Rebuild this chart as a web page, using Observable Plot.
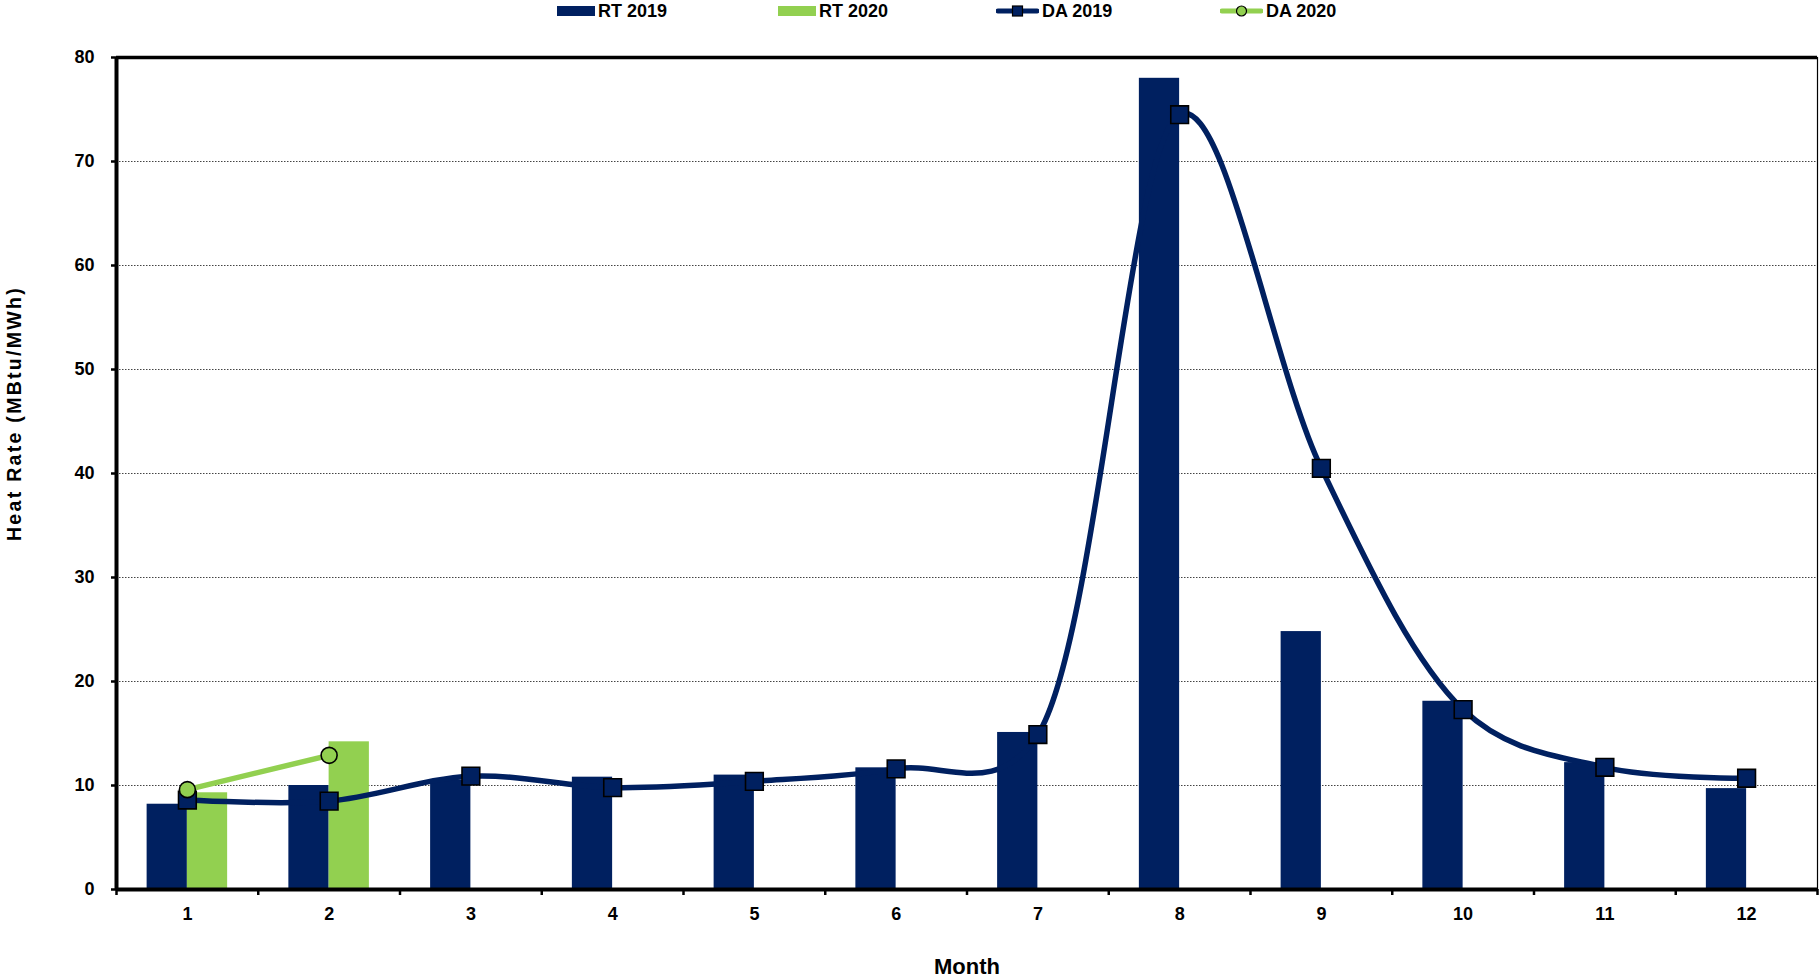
<!DOCTYPE html>
<html><head><meta charset="utf-8">
<script src="https://cdn.jsdelivr.net/npm/d3@7"></script>
<script src="https://cdn.jsdelivr.net/npm/@observablehq/plot@0.6"></script>
<style>
body{margin:0;background:#fff;font-family:"Liberation Sans",Arial,sans-serif;}
#legend{position:relative;width:1819px;height:22px;font-weight:bold;font-size:18px;color:#000;}
.item{position:absolute;top:0;height:22px;display:flex;align-items:center;white-space:nowrap;}
.item svg{display:block;margin-right:3px;}
#chart svg{display:block;}
</style></head><body>
<div id="legend"></div>
<div id="chart"></div>
<script>
// ---- data ----
const months = [1, 2, 3, 4, 5, 6, 7, 8, 9, 10, 11, 12];
const rt2019 = [8.2, 10.0, 10.5, 10.8, 11.0, 11.7, 15.1, 78.0, 24.8, 18.1, 12.2, 9.7];
const rt2020 = [9.3, 14.2];
const da2019 = [8.6, 8.5, 10.9, 9.8, 10.4, 11.6, 14.9, 74.5, 40.5, 17.3, 11.75, 10.7];
const da2020 = [9.6, 12.9];
const yTicks = [0, 10, 20, 30, 40, 50, 60, 70, 80];
const seriesNames = ["RT 2019", "RT 2020", "DA 2019", "DA 2020"];

const navy = "#002060", green = "#92D050";

// ---- legend ----
const legend = document.getElementById("legend");
const legendItems = [
  {name: seriesNames[0], left: 557, svg: `<svg width="38" height="22"><rect x="0" y="6" width="38" height="10" fill="${navy}"/></svg>`},
  {name: seriesNames[1], left: 778, svg: `<svg width="38" height="22"><rect x="0" y="6" width="38" height="10" fill="${green}"/></svg>`},
  {name: seriesNames[2], left: 996, svg: `<svg width="43" height="22"><line x1="2" x2="41" y1="11" y2="11" stroke="${navy}" stroke-width="5" stroke-linecap="round"/><rect x="16.5" y="6" width="10" height="10" fill="${navy}" stroke="#000" stroke-width="1.2"/></svg>`},
  {name: seriesNames[3], left: 1220, svg: `<svg width="43" height="22"><line x1="2" x2="41" y1="11" y2="11" stroke="${green}" stroke-width="5" stroke-linecap="round"/><circle cx="21.5" cy="11" r="5" fill="${green}" stroke="#000" stroke-width="1.2"/></svg>`}
];
for (const it of legendItems) {
  const d = document.createElement("div");
  d.className = "item";
  d.style.left = it.left + "px";
  d.innerHTML = it.svg + `<span>${it.name}</span>`;
  legend.appendChild(d);
}

// ---- chart ----
const W = 1819, H = 957, mL = 116, mR = 2, mT = 35, mB = 90;
const bw = (W - mL - mR) / months.length;
const barW = bw * 0.284;

const rows19 = months.map((m, i) => ({month: m, value: rt2019[i]}));
const rows20 = rt2020.map((v, i) => ({month: months[i], value: v}));
const da19 = months.map((m, i) => ({month: m, value: da2019[i]}));
const da20 = da2020.map((v, i) => ({month: months[i], value: v}));

const plot = Plot.plot({
  width: W, height: H,
  marginLeft: mL, marginRight: mR, marginTop: mT, marginBottom: mB,
  style: {fontFamily: "Liberation Sans, Arial, sans-serif", fontWeight: "bold", fontSize: "18px", color: "#000", background: "#fff"},
  x: {type: "band", domain: months, padding: 0, round: false, axis: null, label: null},
  y: {domain: [0, 80], axis: null, label: null},
  marks: [
    Plot.gridY(yTicks.slice(1, -1), {stroke: "#444", strokeOpacity: 1, strokeWidth: 1, strokeDasharray: "1.5,1.5"}),
    Plot.barY(rows19, {x: "month", y: "value", fill: navy, insetLeft: bw / 2 - barW, insetRight: bw / 2}),
    Plot.barY(rows20, {x: "month", y: "value", fill: green, insetLeft: bw / 2, insetRight: bw / 2 - barW}),
    Plot.line(da19, {x: "month", y: "value", stroke: navy, strokeWidth: 5.5, curve: d3.curveCatmullRom.alpha(0.25)}),
    Plot.line(da20, {x: "month", y: "value", stroke: green, strokeWidth: 5.5}),
    Plot.dot(da19, {x: "month", y: "value", symbol: "square", r: 10, fill: navy, stroke: "#000", strokeWidth: 1.6}),
    Plot.dot(da20, {x: "month", y: "value", symbol: "circle", r: 8, fill: green, stroke: "#000", strokeWidth: 1.6}),
    Plot.frame({stroke: "#000", strokeWidth: 1.2}),
    Plot.ruleY([80], {stroke: "#000", strokeWidth: 3.5}),
    Plot.ruleY([0], {stroke: "#000", strokeWidth: 4}),
    Plot.ruleX([months[0]], {dx: -bw / 2, stroke: "#000", strokeWidth: 4}),
    Plot.axisY({ticks: yTicks, label: null, tickSize: 5, tickPadding: 17, strokeWidth: 2.5, fontSize: 18, fontWeight: "bold"}),
    Plot.axisX({ticks: months, label: null, tickSize: 0, tickPadding: 18, fontSize: 18, fontWeight: "bold"}),
    Plot.axisX({ticks: months, label: null, tickSize: 6, strokeWidth: 2.5, dx: -bw / 2, tickFormat: () => ""}),
    Plot.axisX({ticks: [months[months.length - 1]], label: null, tickSize: 6, strokeWidth: 2.5, dx: bw / 2, tickFormat: () => ""}),
    Plot.text(["Heat Rate (MBtu/MWh)"], {frameAnchor: "left", textAnchor: "middle", lineAnchor: "middle", rotate: -90, dx: -102, dy: -60, fontSize: 19.5, fontWeight: "bold"}),
    Plot.text(["Month"], {frameAnchor: "bottom", textAnchor: "middle", lineAnchor: "middle", dy: 77, fontSize: 22, fontWeight: "bold"})
  ]
});
d3.select(plot).selectAll("text").filter(function() { return this.textContent === "Heat Rate (MBtu/MWh)"; }).style("letter-spacing", "2.3px");
document.getElementById("chart").appendChild(plot);
</script>
</body></html>
